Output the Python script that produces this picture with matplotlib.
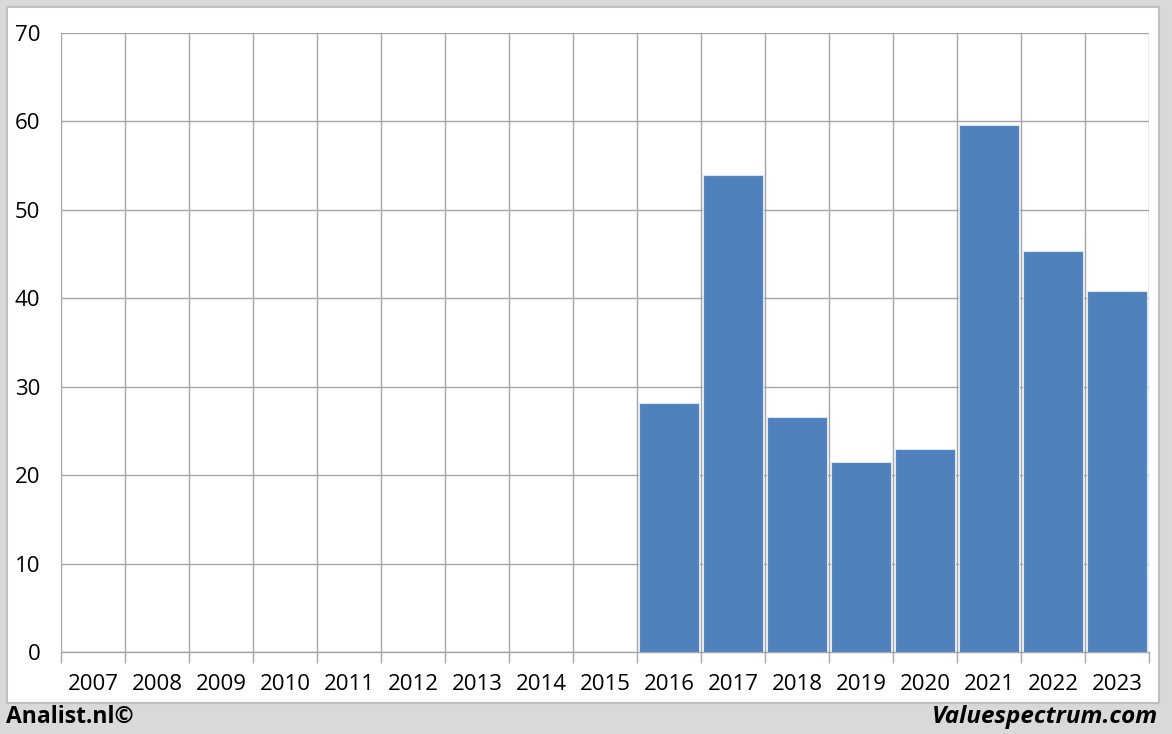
import matplotlib.pyplot as plt
from matplotlib.patches import Rectangle

# Values per year
years = [str(y) for y in range(2007, 2024)]
values = [0, 0, 0, 0, 0, 0, 0, 0, 0, 28.2, 53.9, 26.6, 21.5, 23.0, 59.6, 45.4, 40.8]
y_ticks = [0, 10, 20, 30, 40, 50, 60, 70]

W, H = 1172, 734
fig = plt.figure(figsize=(W / 100, H / 100), dpi=100, facecolor='#d9d9d9')

# white panel with a thin gray border
panel = Rectangle((7 / W, 1 - 703 / H), (1159 - 7) / W, (703 - 7) / H,
                  transform=fig.transFigure, facecolor='white',
                  edgecolor='#bfbfbf', linewidth=1.5, zorder=-5)
fig.patches.append(panel)

ax = fig.add_axes([61 / W, 1 - 652 / H, (1149 - 61) / W, (652 - 33) / H])
ax.set_zorder(2)
ax.set_facecolor('white')

n = len(years)
xs = [i + 0.5 for i in range(n)]
shown = [v if v > 0 else 0 for v in values]
ax.bar(xs, shown, width=0.93, color='#4f81bd', edgecolor='#dce6f2',
       linewidth=0.8, zorder=3)

ax.set_xlim(0, n)
ax.set_ylim(0, 70)
ax.set_yticks(y_ticks)
ax.set_yticklabels([str(t) for t in y_ticks], fontsize=16, family='Open Sans')

# vertical gridlines at category boundaries, labels in the middle
ax.set_xticks(range(n + 1), minor=False)
ax.set_xticklabels([''] * (n + 1))
ax.set_xticks(xs, minor=True)
ax.set_xticklabels(years, minor=True, fontsize=16, family='Open Sans')
ax.tick_params(axis='x', which='minor', length=0, pad=16)
ax.tick_params(axis='x', which='major', length=8, color='#a6a6a6', width=1)
ax.tick_params(axis='y', length=0, pad=15)

ax.grid(True, which='major', color='#a6a6a6', linewidth=1, zorder=0)
ax.set_axisbelow(True)
for side in ['top', 'right', 'left']:
    ax.spines[side].set_visible(False)
ax.spines['bottom'].set_color('#a6a6a6')
ax.spines['bottom'].set_linewidth(1)

fig.text(6 / W, 1 - 717 / H, 'Analist.nl©', fontsize=16.5, fontweight='bold',
         family='Open Sans', va='center', ha='left')
fig.text(1158 / W, 1 - 717 / H, 'Valuespectrum.com', fontsize=17.5,
         fontweight='bold', fontstyle='italic', family='Open Sans',
         va='center', ha='right')

fig.savefig('out.png', dpi=100, facecolor=fig.get_facecolor())
